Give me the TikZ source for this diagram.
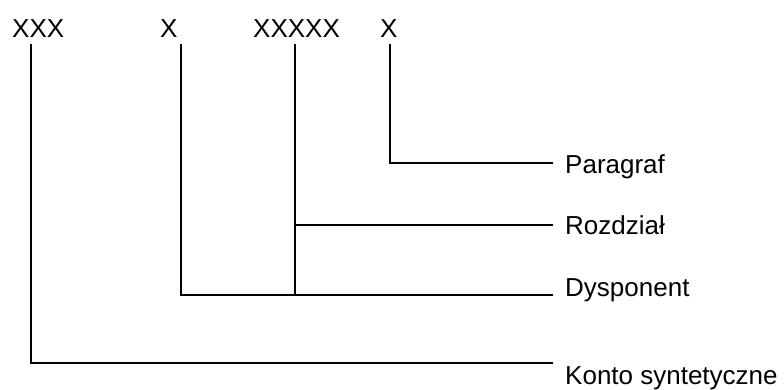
\documentclass[tikz,border=0pt]{standalone}
\usepackage{fontspec}
\setmainfont{Liberation Sans}
\begin{document}
\begin{tikzpicture}[x=1pt,y=-1pt,
  lbl/.style={inner sep=0pt,font=\fontsize{26}{30}\selectfont},
  conn/.style={line width=1.5pt,line join=miter}]
\useasboundingbox (0,0) rectangle (784,389);
% top codes
\node[lbl,anchor=base west] (xxx) at (12,37) {XXX};
\node[lbl,anchor=base west] (dx) at (160,37) {X};
\node[lbl,anchor=base west] (rx) at (253,37) {XXXXX};
\node[lbl,anchor=base west] (px) at (380,37) {X};
% right labels
\node[lbl,anchor=base west] (par) at (565,173) {Paragraf};
\node[lbl,anchor=base west] (roz) at (565,234) {Rozdział};
\node[lbl,anchor=base west] (dys) at (565,296) {Dysponent};
\node[lbl,anchor=base west] (kon) at (565,384) {Konto syntetyczne};
% line tops
\coordinate (t1) at (31,44);
\coordinate (t2) at (181,44);
\coordinate (t3) at (295,44);
\coordinate (t4) at (390,44);
% line ends
\coordinate (e1) at (553,163);
\coordinate (e2) at (553,225);
\coordinate (e3) at (553,295);
\coordinate (e4) at (553,363);
\draw[conn] (t4) |- (e1);
\draw[conn] (t3) |- (e2);
\draw[conn] (t2) |- (e3);
\draw[conn] (t3 |- e3) -- (t3 |- e2);
\draw[conn] (t1) |- (e4);
\end{tikzpicture}
\end{document}
